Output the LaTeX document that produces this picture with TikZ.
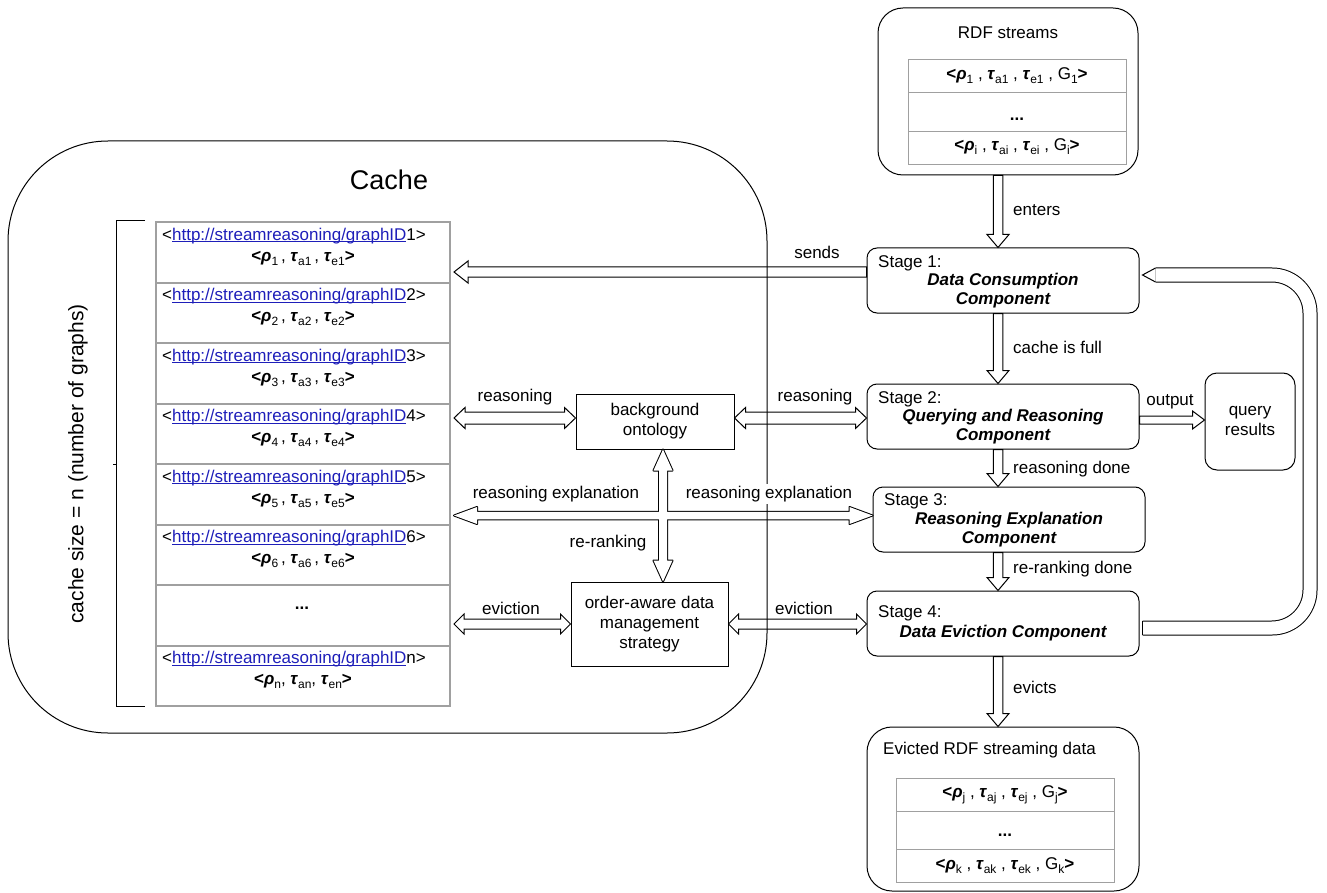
\documentclass[tikz,border=0pt]{standalone}
\usepackage{fontspec}
\setmainfont{Liberation Sans}
\usetikzlibrary{calc}
\definecolor{linkblue}{RGB}{30,30,185}
\definecolor{tgray}{RGB}{160,160,160}
\newcommand\bgr[1]{\textbf{\textit{#1}}}
\newcommand\sbs[1]{\raisebox{-0.45ex}{\fontsize{12}{12}\selectfont #1}}
\newcommand\ulk[1]{\setbox0\hbox{#1}\rlap{\rule[-1.6pt]{\wd0}{0.8pt}}\box0}
\newcommand\lnk[1]{<{\color{linkblue}\ulk{http://streamreasoning/graphID}}#1>}
\newcommand\tpl[3]{\textbf{<}\bgr{ρ}\sbs{#1}\,, \bgr{τ}\sbs{#2}\,, \bgr{τ}\sbs{#3}\textbf{>}}
\newcommand\tplg[4]{\textbf{<}\bgr{ρ}\sbs{#1} , \bgr{τ}\sbs{#2} , \bgr{τ}\sbs{#3} , G\sbs{#4}\textbf{>}}
% hollow block arrows: [style]{from}{to}{shaft half}{head half}{head length}
\newcommand\blockarrow[6][arrowline]{%
  \coordinate (ba1) at (#2); \coordinate (ba2) at (#3);
  \coordinate (baq) at ($(ba2)!#6pt!(ba1)$);
  \path[#1] ($(ba1)!#4pt!90:(ba2)$) -- ($(baq)!#4pt!90:(ba2)$) -- ($(baq)!#5pt!90:(ba2)$) -- (ba2)
    -- ($(baq)!#5pt!-90:(ba2)$) -- ($(baq)!#4pt!-90:(ba2)$) -- ($(ba1)!#4pt!-90:(ba2)$) -- cycle;}
\newcommand\dblockarrow[6][arrowline]{%
  \coordinate (ba1) at (#2); \coordinate (ba2) at (#3);
  \coordinate (bap) at ($(ba1)!#6pt!(ba2)$);
  \coordinate (baq) at ($(ba2)!#6pt!(ba1)$);
  \path[#1] (ba1) -- ($(bap)!#5pt!90:(ba2)$) -- ($(bap)!#4pt!90:(ba2)$) -- ($(baq)!#4pt!90:(ba2)$)
    -- ($(baq)!#5pt!90:(ba2)$) -- (ba2) -- ($(baq)!#5pt!-90:(ba2)$) -- ($(baq)!#4pt!-90:(ba2)$)
    -- ($(bap)!#4pt!-90:(ba2)$) -- ($(bap)!#5pt!-90:(ba2)$) -- cycle;}
\tikzset{
  every node/.style={font=\fontsize{17}{19}\selectfont, inner sep=1pt},
  arrowline/.style={draw, line width=1pt, line join=miter},
  rowbox/.style={draw=tgray, line width=2pt, minimum width=294pt, minimum height=60.5pt, inner sep=0pt, anchor=north west},
  trow/.style={draw=tgray, line width=1.3pt, minimum width=218pt, inner sep=0pt, anchor=north west},
  stagebox/.style={draw, line width=1pt, rounded corners=10pt, minimum width=272pt, minimum height=65pt, inner sep=0pt},
  bigbox/.style={draw, line width=1pt, rounded corners=25pt, inner sep=0pt},
  plainbox/.style={draw, line width=1pt, align=center, inner sep=0pt},
  bi/.style={font=\fontsize{17}{19}\selectfont\bfseries\itshape},
  lbl/.style={font=\fontsize{17}{19}\selectfont},
}
\begin{document}
\begin{tikzpicture}[x=1pt,y=-1pt]
\useasboundingbox (0,0) rectangle (1327,893);

% ---------------- cache table ----------------
\foreach \i in {1,...,8} {
  \node[rowbox] (r\i) at (155,{221+60.5*(\i-1)}) {};
}
\foreach \i in {1,...,6} {
  \node[anchor=west] at ($(r\i.north west)+(6,15)$) {\lnk{\i}};
  \node at ($(r\i.north)+(0,37)$) {\tpl{\i}{a\i}{e\i}};
}
\node (dots) at (302,608) {\textbf{...}};
\node[anchor=west] at ($(r8.north west)+(6,15)$) {\lnk{n}};
\node at ($(r8.north)+(0,37)$) {\textbf{<}\bgr{ρ}\sbs{n}, \bgr{τ}\sbs{an}, \bgr{τ}\sbs{en}\textbf{>}};

% bracket
\coordinate (bk1) at (145,221);
\coordinate (bk2) at (116,221);
\coordinate (bk3) at (116,706);
\coordinate (bk4) at (145,706);
\coordinate (bkm) at (116,464);
\draw[line width=1pt] (bk1) -- (bk2) -- (bk3) -- (bk4);
\draw[line width=1pt] (bkm) -- ++(-3,0);
\node[rotate=90, font=\fontsize{21}{23}\selectfont] (csz) at (78,464) {cache size = n (number of graphs)};

\node[font=\fontsize{27}{29}\selectfont] (cachelbl) at (389,180) {Cache};

% ---------------- middle boxes ----------------
\node[plainbox, minimum width=158pt, minimum height=55pt] (bo) at (655,421.5) {background\\[1pt]ontology};
\node[plainbox, minimum width=157pt, minimum height=84pt] (oa) at (649.5,624) {order-aware data\\[1pt]management\\[1pt]strategy};

% ---------------- RDF streams ----------------
\node[bigbox, minimum width=260pt, minimum height=167pt] (rdf) at (1008,91.5) {};
\node (rdft) at (1008,33) {RDF streams};
\node[trow, minimum height=33pt] (ra) at (908,59) {};
\node[trow, minimum height=39pt] (rb) at (908,92) {};
\node[trow, minimum height=33pt] (rc) at (908,131) {};
\node at (1017,76) {\tplg{1}{a1}{e1}{1}};
\node at (1017,119) {\textbf{...}};
\node at (1017,147) {\tplg{i}{ai}{ei}{i}};

% ---------------- stages ----------------
\node[stagebox] (s1) at (1003,280.5) {};
\node[anchor=west] at (877,263) {Stage 1:};
\node[bi] at (1003,281) {Data Consumption};
\node[bi] at (1003,300) {Component};

\node[stagebox] (s2) at (1003,416.5) {};
\node[anchor=west] at (877,399) {Stage 2:};
\node[bi] at (1003,417) {Querying and Reasoning};
\node[bi] at (1003,436) {Component};

\node[stagebox] (s3) at (1009,519.5) {};
\node[anchor=west] at (883,501) {Stage 3:};
\node[bi] at (1009,520) {Reasoning Explanation};
\node[bi] at (1009,539) {Component};

\node[stagebox] (s4) at (1003,623.5) {};
\node[anchor=west] at (877,613) {Stage 4:};
\node[bi] at (1003,633) {Data Eviction Component};

\node[draw, line width=1pt, rounded corners=12pt, minimum width=90pt, minimum height=97pt, align=center, inner sep=0pt] (qr) at (1250,421.5) {query\\[1pt]results};

% ---------------- evicted ----------------
\node[bigbox, minimum width=272pt, minimum height=164pt] (ev) at (1003,809) {};
\node[anchor=west] (evt) at (882,750) {Evicted RDF streaming data};
\node[trow, minimum height=33pt] (ea) at (896,778) {};
\node[trow, minimum height=38pt] (eb) at (896,811) {};
\node[trow, minimum height=33pt] (ec) at (896,849) {};
\node at (1005,795) {\tplg{j}{aj}{ej}{j}};
\node at (1005,835) {\textbf{...}};
\node at (1005,866) {\tplg{k}{ak}{ek}{k}};

% ---------------- arrows ----------------
\coordinate (vx) at (998,0);
\blockarrow{rdf.south -| vx}{s1.north -| vx}{4.75}{11}{13}
\blockarrow{s1.south -| vx}{s2.north -| vx}{4.75}{11}{13}
\blockarrow{s2.south -| vx}{s3.north -| vx}{4.75}{11}{13}
\blockarrow{s3.south -| vx}{s4.north -| vx}{4.75}{11}{13}
\blockarrow{s4.south -| vx}{ev.north -| vx}{4.75}{11}{13}

\coordinate (oy) at (0,420);
\blockarrow{s2.east |- oy}{qr.west |- oy}{4}{9}{12}

\coordinate (sy) at (0,272);
\blockarrow{s1.west |- sy}{$(r1.east |- sy)+(3,0)$}{5}{11}{14}

\coordinate (ry) at (0,418);
\dblockarrow{$(r4.east |- ry)+(3,0)$}{bo.west |- ry}{6}{10.5}{11}
\dblockarrow{bo.east |- ry}{s2.west |- ry}{6}{10.5}{11}

\coordinate (ey) at (0,624);
\dblockarrow{$(r7.east |- ey)+(3,0)$}{oa.west |- ey}{5}{10}{10}
\dblockarrow{oa.east |- ey}{s4.west |- ey}{5}{10}{10}

% cross arrow (reasoning explanation / re-ranking)
\coordinate (cy) at (0,515.5);
\coordinate (cx) at (663,0);
\dblockarrow[draw, line width=2pt, line join=round]{$(r5.east |- cy)+(3,0)$}{s3.west |- cy}{3.75}{8.5}{23}
\dblockarrow[draw, line width=2pt, line join=round]{bo.south -| cx}{oa.north -| cx}{4}{9.5}{21}
\dblockarrow[fill=white]{$(r5.east |- cy)+(3,0)$}{s3.west |- cy}{3.75}{8.5}{23}
\dblockarrow[fill=white]{bo.south -| cx}{oa.north -| cx}{4}{9.5}{21}

% feedback loop
\coordinate (lx) at (1310,0);
\draw[line width=1pt, double distance=13pt, rounded corners=38pt]
  ($(s4.east)+(3,4.5)$) -- ($(s4.east -| lx)+(0,4.5)$) -- ($(s1.east -| lx)+(0,-5.5)$) -- ($(s1.east)+(16,-5.5)$);
\draw[line width=1pt] ($(s1.east)+(16,-12.5)$) -- ($(s1.east)+(3,-5.5)$) -- ($(s1.east)+(16,1.5)$);
\draw[line width=1pt] ($(s4.east)+(3,-2.5)$) -- ($(s4.east)+(3,11.5)$);

% ---------------- cache outline ----------------
\node[draw, line width=1pt, rounded corners=100pt, minimum width=759pt, minimum height=592pt, inner sep=0pt] (cache) at (387.5,437) {};

% ---------------- labels ----------------
\node[lbl, anchor=west] at (1012,210) {enters};
\node[lbl, anchor=west] at (1012,347) {cache is full};
\node[lbl, anchor=west] at (1012,469) {reasoning done};
\node[lbl, anchor=west] at (1012,569) {re-ranking done};
\node[lbl, anchor=west] at (1012,687) {evicts};
\node[lbl] at (1170,402) {output};
\node[lbl] at (817,252) {sends};
\node[lbl] at (515,397) {reasoning};
\node[lbl] at (815,397) {reasoning};
\node[lbl] at (556,494) {reasoning explanation};
\node[lbl, fill=white, inner sep=2pt] at (769,494) {reasoning explanation};
\node[lbl] at (608,543) {re-ranking};
\node[lbl] at (511,608) {eviction};
\node[lbl] at (804,608) {eviction};
\end{tikzpicture}
\end{document}
